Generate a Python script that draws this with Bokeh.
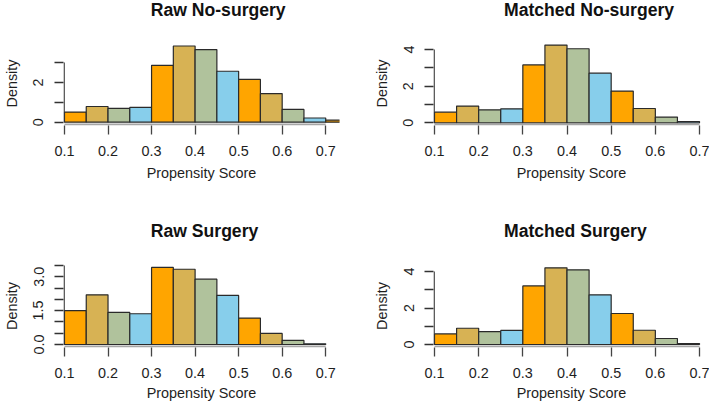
from bokeh.plotting import figure
from bokeh.layouts import gridplot
from bokeh.models import FixedTicker, Range1d, ColumnDataSource, Label
from bokeh.embed import file_html
from bokeh.resources import INLINE

# ---------------- data ----------------
bin_width = 0.05
bin_starts = [0.10, 0.15, 0.20, 0.25, 0.30, 0.35, 0.40, 0.45, 0.50, 0.55, 0.60, 0.65, 0.70]

raw_nosurgery = [0.51, 0.79, 0.69, 0.74, 2.86, 3.83, 3.65, 2.56, 2.15, 1.44, 0.64, 0.21, 0.10]
matched_nosurgery = [0.58, 0.91, 0.71, 0.76, 3.16, 4.24, 4.04, 2.71, 1.73, 0.78, 0.31, 0.07]
raw_surgery = [1.50, 2.20, 1.42, 1.36, 3.41, 3.33, 2.89, 2.17, 1.17, 0.49, 0.18, 0.03]
matched_surgery = [0.58, 0.89, 0.71, 0.77, 3.21, 4.20, 4.09, 2.72, 1.70, 0.78, 0.33, 0.05]

titles = ["Raw No-surgery", "Matched No-surgery", "Raw Surgery", "Matched Surgery"]
x_label = "Propensity Score"
y_label = "Density"
x_ticks = [0.1, 0.2, 0.3, 0.4, 0.5, 0.6, 0.7]
x_axis_span = (0.1, 0.7)

y_ticks_1 = [0, 1, 2, 3]
y_labels_1 = {0: "0", 1: "", 2: "2", 3: ""}
y_ticks_2 = [0, 1, 2, 3, 4]
y_labels_2 = {0: "0", 1: "", 2: "2", 3: "", 4: "4"}
y_ticks_3 = [0, 0.5, 1.0, 1.5, 2.0, 2.5, 3.0, 3.5]
y_labels_3 = {0: "0.0", 0.5: "", 1.0: "", 1.5: "1.5", 2.0: "", 2.5: "", 3.0: "3.0", 3.5: ""}
y_ticks_4 = [0, 1, 2, 3, 4]
y_labels_4 = {0: "0", 1: "", 2: "2", 3: "", 4: "4"}

palette = ["#FFA500", "#D7B254", "#B0C29C", "#87CEEB"]

FONT = "Liberation Sans"
LAB_SIZE = "14.4px"
TITLE_SIZE = "17.6px"
TITLE_MID = 6.1          # baseline -> middle of the title's em box, px
TEXT_COLOR = "#1e1e1e"
XUNIT = 441.7  # px per unit of propensity score (layout scale)

W_LEFT, W_RIGHT = 354, 355
ROW_TOP, ROW_BOTTOM = 200, 204      # full heights of the two rows
HEAD_TOP, HEAD_BOTTOM = 41, 64      # title strip heights


def make_title(text, width, height, dx, frame_lr, x_left, baseline_from_top):
    # the grid aligns frames column-wise, so use the same left/right borders as the panel
    fl, fr = frame_lr
    mbl = int(round(fl + dx))
    mbr = int(round(width - (fr + dx)))
    fl, fr = mbl - dx, width - mbr - dx
    t = figure(width=width, height=height, output_backend="svg", toolbar_location=None,
               x_range=Range1d(fl, fr), y_range=Range1d(0, height),
               x_axis_type=None, y_axis_type=None,
               min_border_left=mbl, min_border_right=mbr, min_border_top=0, min_border_bottom=0)
    t.outline_line_color = None
    t.background_fill_color = "white"
    t.border_fill_color = "white"
    t.add_layout(Label(x=x_left, y=height - (baseline_from_top - TITLE_MID), text=text,
                       text_font=FONT, text_font_size=TITLE_SIZE, text_font_style="bold",
                       text_color="#111111", text_align="left", text_baseline="middle"))
    return t


def make_panel(dens, ticks_y, labels_y, width, height, dx, dy,
               frame, x0px, y0px, yunit, xlab_standoff):
    # pixel positions are in full-picture coords; dx, dy shift them into this canvas
    fl, fr, ft, fb = frame
    mbl = int(round(fl + dx))
    mbr = int(round(width - (fr + dx)))
    mbt = int(round(ft + dy))
    mbb = int(round(height - (fb + dy)))
    fl, fr = mbl - dx, width - mbr - dx
    ft, fb = mbt - dy, height - mbb - dy

    def X(px):
        return 0.1 + (px - x0px) / XUNIT

    def Y(py):
        return (y0px - py) / yunit

    p = figure(width=width, height=height, output_backend="svg", toolbar_location=None,
               x_range=Range1d(X(fl), X(fr)), y_range=Range1d(Y(fb), Y(ft)),
               min_border_left=mbl, min_border_right=mbr,
               min_border_top=mbt, min_border_bottom=mbb)
    p.outline_line_color = None
    p.xgrid.visible = False
    p.ygrid.visible = False
    p.background_fill_color = "white"
    p.border_fill_color = "white"

    n = len(dens)
    left = bin_starts[:n]
    right = [b + bin_width for b in left]
    colors = [palette[i % 4] for i in range(n)]
    src = ColumnDataSource(dict(left=left, right=right, top=dens, color=colors))
    p.quad(left="left", right="right", top="top", bottom=0, source=src,
           fill_color="color", line_color="#2a2a2a", line_width=1.2)

    # light grey x-axis line and dark y-axis line (inside the frame edges)
    p.segment(x0=[x_axis_span[0]], x1=[x_axis_span[1]], y0=[Y(fb - 1)], y1=[Y(fb - 1)],
              line_color="#a6a6a6", line_width=1.8)
    p.segment(x0=[X(fl + 0.65)], x1=[X(fl + 0.65)], y0=[ticks_y[0]], y1=[ticks_y[-1]],
              line_color="#333333", line_width=1.3)

    # axis bounds centred like the frame, so the axis titles sit in the middle
    x_end = min(X(fr), 2 * X((fl + fr) / 2) - x_axis_span[0])
    y_end = max(ticks_y[-1], 2 * Y((ft + fb) / 2))

    xa = p.xaxis[0]
    xa.ticker = FixedTicker(ticks=x_ticks)
    xa.bounds = (x_axis_span[0], x_end)
    xa.axis_line_color = None
    xa.major_tick_line_color = "#444444"
    xa.major_tick_line_width = 1.3
    xa.major_tick_out = 9
    xa.major_tick_in = 0
    xa.minor_tick_line_color = None
    xa.major_label_standoff = 11
    xa.major_label_text_font = FONT
    xa.major_label_text_font_size = LAB_SIZE
    xa.major_label_text_color = TEXT_COLOR
    xa.axis_label = x_label
    xa.axis_label_text_font = FONT
    xa.axis_label_text_font_size = LAB_SIZE
    xa.axis_label_text_font_style = "normal"
    xa.axis_label_text_color = TEXT_COLOR
    xa.axis_label_standoff = xlab_standoff

    ya = p.yaxis[0]
    ya.ticker = FixedTicker(ticks=ticks_y)
    ya.bounds = (ticks_y[0], y_end)
    ya.major_label_overrides = labels_y
    ya.axis_line_color = None
    ya.major_tick_line_color = "#333333"
    ya.major_tick_line_width = 1.3
    ya.major_tick_out = 9
    ya.major_tick_in = 0
    ya.minor_tick_line_color = None
    ya.major_label_orientation = "vertical"
    ya.major_label_standoff = 11
    ya.major_label_text_font = FONT
    ya.major_label_text_font_size = LAB_SIZE
    ya.major_label_text_color = TEXT_COLOR
    ya.axis_label = y_label
    ya.axis_label_text_font = FONT
    ya.axis_label_text_font_size = LAB_SIZE
    ya.axis_label_text_font_style = "normal"
    ya.axis_label_text_color = TEXT_COLOR
    ya.axis_label_standoff = 11
    return p


LEFT_FRAME = (59, 339)
RIGHT_FRAME = (433, 709)

t1 = make_title(titles[0], W_LEFT, HEAD_TOP, 0, LEFT_FRAME, 147.5, 15.8)
t2 = make_title(titles[1], W_RIGHT, HEAD_TOP, -354, RIGHT_FRAME, 503.5, 15.8)
t3 = make_title(titles[2], W_LEFT, HEAD_BOTTOM, 0, LEFT_FRAME, 147.5, 37)
t4 = make_title(titles[3], W_RIGHT, HEAD_BOTTOM, -354, RIGHT_FRAME, 503.5, 37)

h_top = ROW_TOP - HEAD_TOP
h_bot = ROW_BOTTOM - HEAD_BOTTOM
y_top0 = HEAD_TOP
y_bot0 = ROW_TOP + HEAD_BOTTOM

p1 = make_panel(raw_nosurgery, y_ticks_1, y_labels_1, W_LEFT, h_top, 0, -y_top0,
                (*LEFT_FRAME, y_top0, 125), 60, 121.7, 19.9, 6)
p2 = make_panel(matched_nosurgery, y_ticks_2, y_labels_2, W_RIGHT, h_top, -354, -y_top0,
                (*RIGHT_FRAME, y_top0, 125), 434, 122.3, 18.33, 6)
p3 = make_panel(raw_surgery, y_ticks_3, y_labels_3, W_LEFT, h_bot, 0, -y_bot0,
                (*LEFT_FRAME, y_bot0, 347), 60, 344, 22.6, 4)
p4 = make_panel(matched_surgery, y_ticks_4, y_labels_4, W_RIGHT, h_bot, -354, -y_bot0,
                (*RIGHT_FRAME, y_bot0, 347), 434, 344, 18.25, 4)

grid = gridplot([[t1, t2], [p1, p2], [t3, t4], [p3, p4]], toolbar_location=None)

open("out.html", "w").write(file_html(grid, INLINE))
